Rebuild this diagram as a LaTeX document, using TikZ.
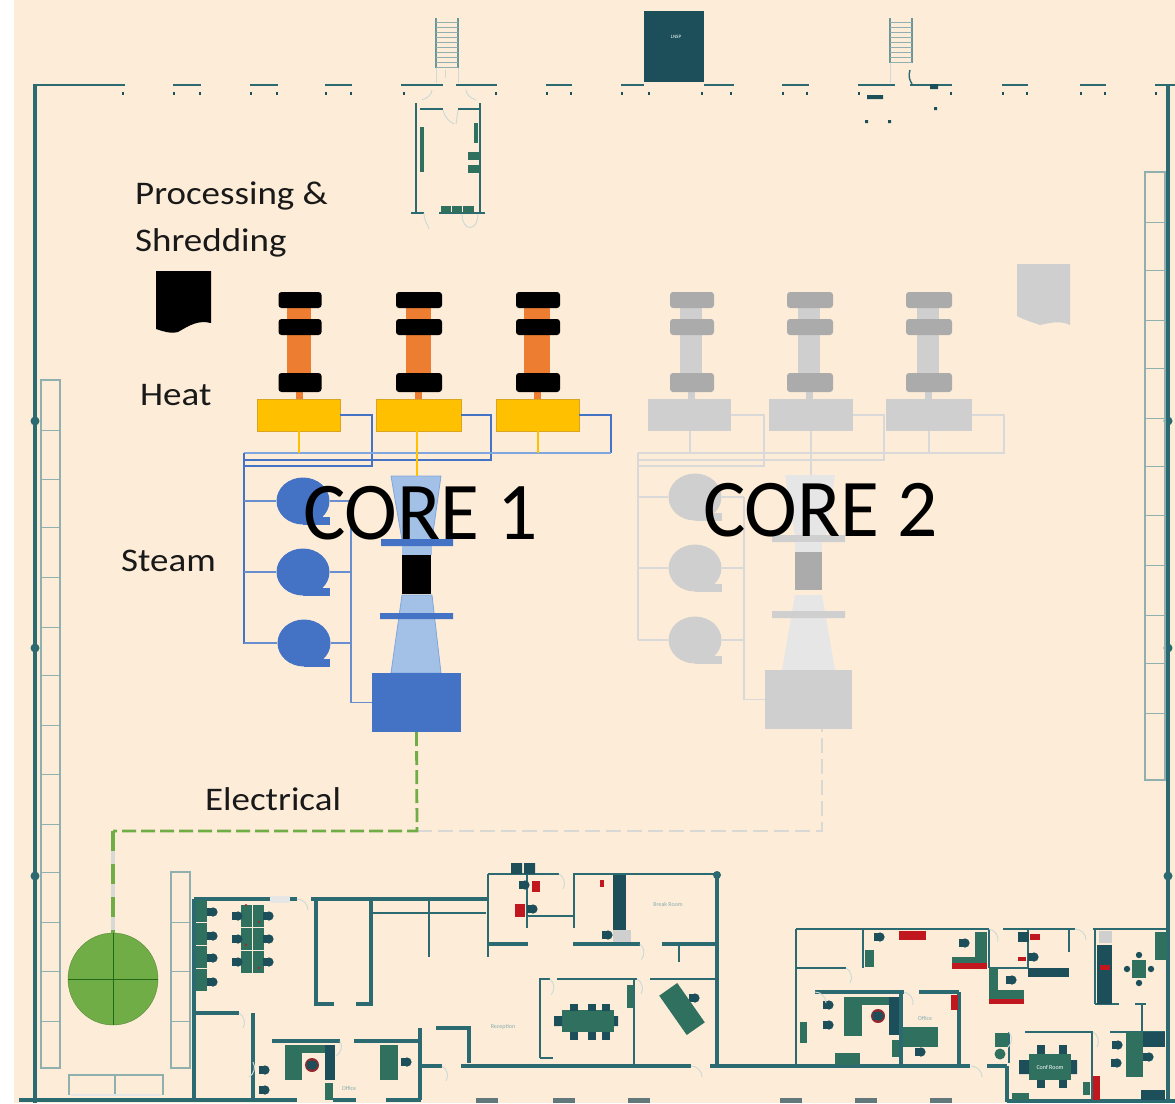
\documentclass[tikz,border=0pt]{standalone}
\usepackage{fontspec}
\setmainfont{Carlito}
\newfontfamily\labfont[FakeStretch=1.12]{Carlito}
\newfontfamily\corefont[FakeStretch=.97]{Carlito}
\usetikzlibrary{shapes.geometric}
\definecolor{bgc}{HTML}{FDEDD8}
\definecolor{wallc}{HTML}{2B6A70}
\definecolor{rackc}{HTML}{8FB0AE}
\definecolor{deskc}{HTML}{30705F}
\definecolor{darkc}{HTML}{1C4F59}
\definecolor{redc}{HTML}{C0181E}
\definecolor{doorc}{HTML}{CFDAD6}
\definecolor{orc}{HTML}{ED7D31}
\definecolor{goldc}{HTML}{FFC000}
\definecolor{goldl}{HTML}{D9A520}
\definecolor{bluec}{HTML}{4472C4}
\definecolor{bluel}{HTML}{A3C1E6}
\definecolor{bluem}{HTML}{7FA6DE}
\definecolor{greenc}{HTML}{70AD47}
\definecolor{g1}{HTML}{ABABAB}
\definecolor{g2}{HTML}{CFCFCF}
\definecolor{g3}{HTML}{D9D9D9}
\definecolor{g4}{HTML}{E6E6E6}
\definecolor{dashg}{HTML}{D8D8D4}
\tikzset{
  box/.style={rectangle,inner sep=0pt,outer sep=0pt},
  wall/.style={draw=wallc,line width=3.2pt},
  wallt/.style={draw=wallc,line width=2.2pt},
  rack/.style={draw=rackc,line width=1.6pt},
  doorl/.style={draw=doorc,line width=1pt},
  bar/.style={rounded corners=3pt},
  label/.style={font=\labfont\fontsize{33}{36}\selectfont,anchor=base west,inner sep=0pt,text=black!90},
  corelabel/.style={font=\corefont\fontsize{82}{90}\selectfont,anchor=base west,inner sep=0pt,text=black},
  tiny/.style={font=\fontsize{6}{7}\selectfont,text=wallc!55,inner sep=0pt},
  pipe/.style={draw=bluec,line width=2.4pt},
  pipel/.style={draw=bluec!80,line width=1.8pt},
  pipeg/.style={draw=g3,line width=2.2pt},
  feed/.style={draw=goldc,line width=2pt},
  feedg/.style={draw=g3,line width=2pt},
}
\newcommand{\RN}[6]{\node[box,#6,minimum width={(#4-#2)*1pt},minimum height={(#5-#3)*1pt}] (#1) at ({(#2+#4)/2},{(#3+#5)/2}) {};}
\newcommand{\Chr}[2]{\fill[darkc] (#1-5,#2-4) rectangle (#1+1,#2+4); \fill[darkc] (#1+1,#2) circle (4.6);}
\newcommand{\RF}[5]{\fill[#5] (#1,#2) rectangle (#3,#4);}
\newcommand{\Dr}[3]{\draw[doorl] (#1,#2) arc[start angle=#3,delta angle=90,radius=11];}
\newcommand{\Dots}[1]{\foreach \dx in {#1} {\fill[darkc] (\dx,91.5) rectangle (\dx+2,94.5);}}
% ---------- furnace column: name, stem x-centre, black half width, stem half width, gold x1, gold x2, colours
\newcommand{\Col}[9]{%
  \fill[#8] (#2-#4,300) rectangle (#2+#4,385);
  \fill[#8] (#2-3.5,385) rectangle (#2+3.5,399);
  \fill[#7,bar] (#2-#3+1,292) rectangle (#2+#3+1,308);
  \fill[#7,bar] (#2-#3+1,319) rectangle (#2+#3+1,335);
  \fill[#7,bar] (#2-#3+1,373) rectangle (#2+#3+1,392);
  \RN{#1}{#5}{399}{#6}{431}{#9}}
\begin{document}
\begin{tikzpicture}[x=1pt,y=-1pt]
\useasboundingbox (0,0) rectangle (1175,1103);
\fill[white] (0,0) rectangle (1175,1103);
\fill[bgc] (14,0) rectangle (1175,1103);

% ---------- outer walls
\draw[wall] (35,85) -- (35,1103);
\draw[wall] (1168,86) -- (1168,1103);
\draw[wall] (19,1100) -- (297,1100) (333,1100) -- (356,1100) (386,1100) -- (421,1100);
\draw[wall] (1007,1101) -- (1175,1101);
\foreach \yy in {421,648,876} {\fill[wallc] (35,\yy) circle (4.5); \fill[wallc] (1168,\yy) circle (4.5);}
\draw[wall,line width=2.4pt] (33,85) -- (125,85) (173,85) -- (201,85) (250,85) -- (278,85) (325,85) -- (352,85)
  (401,85) -- (443,85) (456,85) -- (497,85) (546,85) -- (572,85) (621,85) -- (644,85) (704,85) -- (734,85)
  (782,85) -- (809,85) (858,85) -- (895,85) (910,85) -- (952,85) (1002,85) -- (1028,85) (1080,85) -- (1106,85) (1155,85) -- (1175,85);
\Dots{122,173,199,250,276,325,350,403,495,546,570,621,648,701,730,782,806,858,950,1002,1026,1080,1104,1155}

% ---------- racks
\draw[rack] (41,380) rectangle (60,1068);
\foreach \yy in {430,479,527,577,627,675,725,774,824,872,922,971,1021} {\draw[rack,line width=.9pt] (41,\yy) -- (60,\yy);}
\draw[rack] (1145,172) rectangle (1165,780);
\foreach \yy in {222,270,320,368,418,466,515,565,615,663,713} {\draw[rack,line width=.9pt] (1145,\yy) -- (1165,\yy);}
\draw[rack] (171,872) rectangle (190,1068);
\foreach \yy in {922,971,1021} {\draw[rack,line width=.9pt] (171,\yy) -- (190,\yy);}
\draw[rack] (69,1095) -- (69,1075) -- (163,1075) -- (163,1095) (115,1075) -- (115,1095);
\draw[g4,line width=2pt] (71,1095) -- (161,1095);

% ---------- stairs and dock
\draw[draw=wallc!70,line width=1.3pt] (436,18) -- (436,68) (458,18) -- (458,68) (890,18) -- (890,63) (912,18) -- (912,63);
\foreach \yy in {22,27,...,67} {\draw[rack,line width=.8pt] (436,\yy) -- (458,\yy);}
\foreach \yy in {22,27,...,62} {\draw[rack,line width=.8pt] (890,\yy) -- (912,\yy);}
\draw[doorl] (436,68) -- (436,83) (458,68) -- (458,83) (890,63) -- (890,83) (445,70) -- (445,78);
\draw[wallc,line width=1.4pt] (910,70) .. controls (908,78) and (910,80) .. (912,84);
\RN{dock}{644}{11}{704}{82}{fill=darkc}
\node[font=\fontsize{5}{6}\selectfont,text=white,inner sep=0pt] at (676,37) {LNSP};
\fill[darkc] (867,95) rectangle (883,99) (930,84) rectangle (938,89);
\fill[darkc] (934,107) rectangle (937,110) (865,120) rectangle (868,123) (888,120) rectangle (891,123);

% ---------- top room
\draw[wallt,line width=2.4pt] (416,103) -- (416,213) (480,103) -- (480,213) (411,213) -- (424,213) (439,213) -- (485,213) (420,109) -- (443,109) (458,109) -- (480,109);
\fill[deskc] (420,127) rectangle (424,172);
\RF{474}{123}{478}{143}{deskc}
\RF{468}{152}{480}{160}{deskc}
\RF{468}{165}{480}{173}{deskc}
\RF{441}{206}{451}{213}{deskc}
\RF{452}{206}{462}{213}{deskc}
\RF{463}{206}{474}{213}{deskc}
\draw[doorl] (424,213) .. controls (424,222) and (428,224) .. (429,229);
\draw[doorl] (462,214) .. controls (462,232) and (478,232) .. (478,214);
\draw[doorl] (443,110) .. controls (445,118) and (450,122) .. (454,124) (458,110) -- (456,124);
\draw[doorl] (422,100) .. controls (428,98) and (432,94) .. (432,90);
\draw[doorl] (476,100) .. controls (470,98) and (466,94) .. (466,90);

% ---------- lower left offices
\draw[wall] (194,899) -- (194,1100) (194,899) -- (297,899) (311,899) -- (488,899);
\RF{270}{896}{290}{903}{g4}
\draw[wall] (194,1013) -- (239,1013) (253,1013) -- (253,1100);
\draw[wall] (334,1004) -- (316,1004) -- (316,900) (371,900) -- (371,1004) -- (356,1004);
\draw[wallt] (372,913) -- (486,913) (429,900) -- (429,957);
\draw[wallt] (488,874) -- (488,957) (488,874) -- (559,874) (573,874) -- (717,874) (527,874) -- (527,928) (527,916) -- (574,916) (574,874) -- (574,928);
\draw[wall] (488,944) -- (528,944) (573,944) -- (640,944) (662,944) -- (717,944);
\draw[wall] (272,1041) -- (340,1041) (354,1041) -- (421,1041) (420,1028) -- (420,1100);
\draw[wall] (436,1028) -- (469,1028) -- (469,1063) (421,1066) -- (442,1066) (461,1066) -- (691,1066) (710,1066) -- (970,1066) (987,1066) -- (1007,1066) (1007,1066) -- (1007,1102);
\draw[wallt] (540,1058) -- (540,979) -- (550,979) (557,979) -- (637,979) (650,979) -- (717,979) (634,979) -- (634,1065) (540,1058) -- (553,1058);
\draw[wall] (717,875) -- (717,1065);
\fill[wallc] (717,875) circle (4);
\draw[wallt] (679,944) -- (679,962);
\foreach \yy in {900,923,946,969} {\RF{196}{\yy}{207}{\yy+22}{deskc}}
\foreach \yy in {912,936,958,982} {\Chr{212}{\yy}}
\foreach \yy in {905,928,951} {\RF{241}{\yy}{252}{\yy+22}{deskc}\RF{253}{\yy}{264}{\yy+22}{deskc}}
\foreach \yy in {916,939,962} {\Chr{237}{\yy}\Chr{268}{\yy}}
\foreach \p in {(246,905),(259,922),(246,945),(259,968)} {\fill[redc] \p circle (1.2);}
\RF{285}{1045}{302}{1080}{deskc}
\RF{302}{1045}{325}{1053}{deskc}
\RF{325}{1045}{335}{1080}{darkc}
\RF{325}{1083}{333}{1100}{deskc}
\fill[redc!70!darkc] (312,1065) circle (7);
\Chr{312}{1065}\Chr{264}{1070}\Chr{264}{1090}
\RF{380}{1045}{398}{1080}{deskc}
\Chr{406}{1062}
\fill[darkc] (511,863) rectangle (522,874) (524,863) rectangle (535,874);
\RF{532}{881}{540}{892}{redc}
\Chr{524}{885}
\RF{515}{904}{525}{917}{redc}
\Chr{532}{909}
\RF{613}{875}{626}{930}{darkc}
\RF{613}{930}{631}{942}{g2}
\Chr{607}{935}
\fill[redc] (600,880) rectangle (604,887);
\Chr{694}{998}
\fill[deskc,rotate around={-55:(682,1009)}] (658,998) rectangle (706,1020);
\fill[deskc] (562,1010) rectangle (614,1032);
\foreach \xx in {574,592,606} {\fill[darkc] (\xx-4,1004) rectangle (\xx+4,1011); \fill[darkc] (\xx-4,1032) rectangle (\xx+4,1040);}
\fill[darkc] (554,1016) rectangle (562,1026) (614,1016) rectangle (618,1026);
\RF{627}{985}{633}{1008}{deskc}
\Dr{297}{899}{-90}\Dr{239}{1013}{-60}\Dr{253}{1062}{-30}\Dr{340}{1041}{-30}\Dr{442}{1066}{-60}\Dr{691}{1066}{-90}\Dr{971}{1066}{-90}\Dr{559}{874}{-60}\Dr{640}{944}{-50}\Dr{637}{979}{-60}\Dr{550}{979}{-50}

% ---------- lower right offices
\draw[wallt] (796,929) -- (989,929) (1003,929) -- (1075,929) (1093,929) -- (1168,929) (796,929) -- (796,1065) (863,929) -- (863,968) (796,968) -- (846,968);
\draw[wallt] (989,929) -- (989,968) (989,968) -- (1029,968) (1028,929) -- (1028,968) (1069,929) -- (1069,952) (1095,929) -- (1095,1004);
\draw[wall] (815,992) -- (904,992) (919,992) -- (959,992) (959,992) -- (959,1065) (901,992) -- (901,1065);
\draw[wall] (1007,1066) -- (1007,1102);
\draw[wallt,line width=2.6pt] (1009,1032) -- (1009,1063) (1025,1032) -- (1093,1032) (1110,1032) -- (1165,1032) (1092,1032) -- (1092,1100) (1142,1004) -- (1142,1032) (1095,1004) -- (1119,1004) (1135,1004) -- (1146,1004);
\RF{899}{931}{926}{940}{redc}
\RF{865}{950}{874}{967}{deskc}
\Chr{879}{937}\Chr{964}{943}
\RF{975}{932}{987}{968}{deskc}
\RF{952}{957}{987}{963}{deskc}
\RF{952}{963}{987}{969}{redc}
\RF{989}{968}{998}{1003}{deskc}
\RF{989}{990}{1024}{999}{deskc}
\RF{989}{999}{1024}{1004}{redc}
\Chr{1011}{980}
\RF{1018}{932}{1029}{942}{darkc}
\RF{1030}{934}{1040}{940}{redc}
\Chr{1033}{957}
\RF{1018}{957}{1026}{961}{redc}
\RF{1028}{968}{1069}{977}{darkc}
\RF{1097}{945}{1112}{1004}{darkc}
\RF{1099}{931}{1112}{943}{g2}
\RF{1100}{965}{1110}{970}{redc}
\RF{1132}{960}{1146}{978}{deskc}
\fill[darkc] (1139,955) circle (3.2) (1139,983) circle (3.2) (1127,969) circle (3.2) (1151,969) circle (3.2);
\RF{1155}{932}{1167}{960}{deskc}
\RF{844}{997}{862}{1036}{deskc}
\RF{862}{997}{890}{1005}{deskc}
\RF{889}{997}{899}{1035}{darkc}
\fill[redc!70!darkc] (878,1016) circle (7);
\Chr{878}{1016}\Chr{828}{1005}\Chr{828}{1025}
\RF{800}{1022}{807}{1043}{deskc}
\RF{835}{1053}{860}{1065}{deskc}
\RF{892}{1040}{899}{1057}{deskc}
\RF{903}{1027}{938}{1047}{deskc}
\RF{951}{995}{958}{1010}{redc}
\Chr{920}{1052}
\RF{995}{1033}{1008}{1047}{deskc}
\fill[deskc] (1000,1054) circle (5.5);
\RF{1029}{1054}{1071}{1080}{deskc}
\foreach \xx in {1041,1063} {\fill[darkc] (\xx-4,1045) rectangle (\xx+4,1054); \fill[darkc] (\xx-4,1080) rectangle (\xx+4,1088);}
\fill[darkc] (1019,1060) rectangle (1029,1074) (1071,1060) rectangle (1077,1074);
\RF{1126}{1032}{1143}{1077}{deskc}
\RF{1143}{1032}{1165}{1047}{darkc}
\Chr{1117}{1045}\Chr{1116}{1063}\Chr{1148}{1057}
\RF{1093}{1076}{1100}{1100}{redc}
\RF{1083}{1082}{1090}{1095}{deskc}
\RF{1012}{1093}{1029}{1100}{deskc}
\RF{1141}{1090}{1165}{1100}{darkc}
\Dr{846}{968}{-60}\Dr{989}{929}{-80}\Dr{1075}{929}{-90}\Dr{815}{992}{-90}\Dr{904}{992}{-80}\Dr{1009}{1032}{-40}\Dr{1093}{1032}{-60}
\foreach \xx in {476,553,628,780,855,930} {\RF{\xx}{1098}{\xx+22}{1103}{wallc!35!gray}}

% ---------- tiny room labels
\node[tiny] at (503,1027) {Reception};
\node[tiny] at (668,904) {Break Room};
\node[tiny] at (925,1018) {Office};
\node[tiny] at (349,1088) {Office};
\node[tiny,text=white] at (1050,1067) {Conf Room};

% ---------- CORE 2 (greyed)
\Col{g2a}{691}{22}{11}{648}{731}{g1}{g2}{fill=g2}
\Col{g2b}{809}{23}{11}{769}{853}{g1}{g2}{fill=g2}
\Col{g2c}{928}{23}{11}{886}{972}{g1}{g2}{fill=g2}
\coordinate (q1) at (638,466); \coordinate (q2) at (638,460); \coordinate (q3) at (638,453);
\coordinate (qbot) at (638,640);
\draw[pipeg] (g2a.east) -| (764,466) -- (q1);
\draw[pipeg] (g2b.east) -| (884,460) -- (q2);
\draw[pipeg] (g2c.east) -| (1004,453) -- (q3);
\draw[pipeg] (q3) -- (qbot);
\fill[g4] (785,475) -- (835,475) -- (826,537) -- (795,537) -- cycle;
\fill[g4] (795,595) -- (822,595) -- (835,670) -- (782,670) -- cycle;
\fill[g2] (772,535) rectangle (845,542) (772,611) rectangle (845,618);
\RN{g2t}{795}{552}{822}{590}{fill=g1}
\fill[g4] (795,542) rectangle (822,552);
\RN{g2g}{765}{670}{852}{729}{fill=g2}
\foreach \n/\yy in {a/497,b/568,c/640} {
  \node[ellipse,fill=g2,inner sep=0pt,minimum width=53pt,minimum height=47pt] (gb\n) at (695,\yy) {};
  \fill[g2] (695,\yy+16) rectangle (722,\yy+24);
  \coordinate (ql\n) at (638,\yy);
  \coordinate (qr\n) at (744,\yy);
  \draw[pipeg,line width=1.6pt] (ql\n) -- (gb\n.west);
  \draw[pipeg,line width=1.6pt] (gb\n.east) -- (qr\n);
}
\draw[pipeg,line width=1.6pt] (qra) |- (g2g.west);
\foreach \f in {g2a,g2c} {\draw[feedg] (\f.south) -- ++(0,22);}
\draw[feedg] (g2b.south) -- ++(0,44);

% ---------- CORE 1
\Col{f1}{299}{21.5}{12}{257}{340}{black}{orc}{fill=goldc,draw=goldl}
\Col{f2}{418}{23}{12.5}{376}{461}{black}{orc}{fill=goldc,draw=goldl}
\Col{f3}{537}{22}{13}{496}{579}{black}{orc}{fill=goldc,draw=goldl}
\coordinate (h1) at (244,466); \coordinate (h2) at (244,460); \coordinate (h3) at (244,453);
\coordinate (hb) at (244,644); \coordinate (ctop) at (417,476); \coordinate (hc) at (611,453);
\draw[pipe] (f1.east) -| (372,466) -- (h1);
\draw[pipe] (f2.east) -| (491,460) -- (h2);
\draw[pipe] (f3.east) -| (hc);
\draw[bluem,line width=2pt] (hc) -- (h3);
\draw[pipe] (h3) -- (hb);
\draw[fill=bluel,draw=bluem,line width=.8pt] (391,476) -- (441,476) -- (432,540) -- (402,540) -- cycle;
\fill[bluel] (402,546) rectangle (432,555);
\RN{cmp}{402}{555}{431}{594}{fill=black}
\draw[fill=bluel,draw=bluem,line width=.8pt] (402,595) -- (432,595) -- (441,673) -- (391,673) -- cycle;
\fill[bluec] (381,539) rectangle (453,546) (380,613) rectangle (453,619);
\RN{gen}{372}{673}{461}{732}{fill=bluec}
\foreach \n/\yy/\xc in {a/501/303,b/572/303,c/643/304} {
  \node[ellipse,fill=bluec,inner sep=0pt,minimum width=53pt,minimum height=47pt] (bb\n) at (\xc,\yy) {};
  \fill[bluec] (\xc,\yy+16) rectangle (330,\yy+24);
  \coordinate (hl\n) at (244,\yy);
  \coordinate (hr\n) at (351,\yy);
  \draw[pipel] (hl\n) -- (bb\n.west);
  \draw[pipel] (bb\n.east) -- (hr\n);
}
\draw[pipel] (hra) |- (gen.west);
\foreach \f in {f1,f3} {\draw[feed] (\f.south) -- ++(0,22);}
\draw[feed] (ctop |- f2.south) -- (ctop);

% ---------- electrical run
\node[ellipse,fill=greenc,draw=greenc!80!black,line width=.4pt,inner sep=0pt,minimum width=90pt,minimum height=92pt] (grid) at (113,979) {};
\draw[green!30!black!70!greenc,line width=.8pt] (grid.north) -- (grid.south) (grid.west) -- (grid.east);
\coordinate (j1) at (417,831); \coordinate (j2) at (113,831); \coordinate (j3) at (822,831);
\draw[dashg,line width=2.6pt,dash pattern=on 15pt off 6pt] (j1) -- (j3) -- (g2g.south -| j3);
\draw[dashg,line width=3.4pt] (j2) -- (grid.north);
\draw[greenc,line width=2.8pt,dash pattern=on 14pt off 5pt] (gen.south) -- (j1) -- (j2);
\draw[greenc,line width=3.6pt,dash pattern=on 20pt off 13pt] (j2) -- (grid.north);

% ---------- labels
\node[label] (lp) at (135,204) {Processing \&};
\node[label] (ls) at (135,251) {Shredding};
\node[label] (lh) at (140,405) {Heat};
\node[label] (lst) at (121,571) {Steam};
\node[label] (le) at (205,810) {Electrical};
\node[corelabel] (c1) at (303,539) {CORE 1};
\node[corelabel] (c2) at (703,536) {CORE 2};

% ---------- shredders
\fill[black] (156,271) -- (211,271) -- (211,323) .. controls (198,320) and (190,325) .. (178,332) .. controls (170,334) and (162,331) .. (156,329) -- cycle;
\fill[g2] (1017,264) -- (1070,264) -- (1070,325) .. controls (1060,320) and (1050,323) .. (1040,325) .. controls (1032,322) and (1024,320) .. (1017,316) -- cycle;
\end{tikzpicture}
\end{document}
